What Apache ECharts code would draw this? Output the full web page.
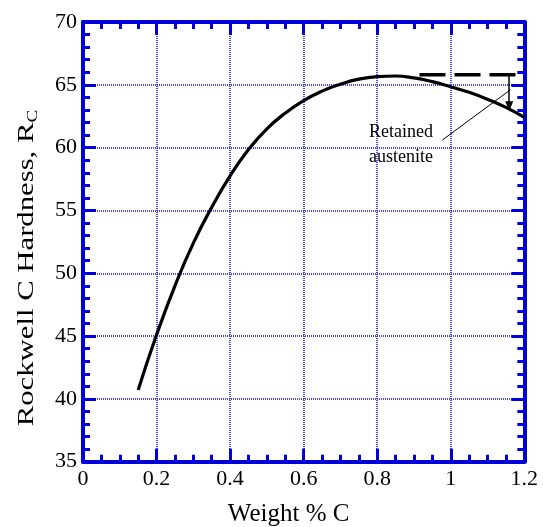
<!DOCTYPE html>
<html>
<head>
<meta charset="utf-8">
<script src="https://cdn.jsdelivr.net/npm/echarts@6/dist/echarts.min.js"></script>
<style>
html,body{margin:0;padding:0;background:#ffffff;}
#chart{width:543px;height:527px;}
</style>
</head>
<body>
<div id="chart"></div>
<script>
// Hardness curve (Weight % C vs Rockwell C)
const carbon = [0.15,0.2,0.25,0.3,0.35,0.4,0.45,0.5,0.55,0.6,0.65,0.7,0.75,0.8,0.85,0.9,0.95,1.0,1.05,1.1,1.15,1.2];
const hardness = [40.7,45.1,49.0,52.4,55.25,57.75,59.85,61.5,62.75,63.75,64.5,65.05,65.45,65.65,65.7,65.55,65.25,64.85,64.4,63.85,63.2,62.4];
// Dashed "no retained austenite" reference line
const dashX = [0.915, 1.2];
const dashY = [65.8, 65.8];
// Arrow showing drop due to retained austenite
const arrowX = [1.159, 1.159];
const arrowY = [65.8, 63.3];
// Leader line from label
const leaderX = [0.977, 1.162];
const leaderY = [60.6, 64.6];
// Annotation text anchor
const noteX = [0.865];
const noteY = [60.2];
const noteText = ['Retained', 'austenite'];
// Axis ranges / ticks
const xRange = [0, 1.2, 0.2];
const yRange = [35, 70, 5];

const FONT = '"Liberation Serif", "Times New Roman", serif';
const BLUE = '#0000dd';
const GRIDC = '#4848ff';

function pairs(xs, ys){ return xs.map((x,i)=>[x, ys[i]]); }

const axisCommon = {
  axisLine:{show:true, onZero:false, lineStyle:{color:BLUE, width:4}},
  axisTick:{show:true, inside:true, length:13, lineStyle:{color:BLUE, width:3}},
  minorTick:{show:true, length:7, lineStyle:{color:BLUE, width:3}}
};

const chart = echarts.init(document.getElementById('chart'), null, {renderer:'canvas'});
chart.setOption({
  animation:false,
  backgroundColor:'#ffffff',
  grid:{left:83, right:18.7, top:22, bottom:65.3, containLabel:false, outerBoundsMode:'none'},
  xAxis:[
    Object.assign({}, JSON.parse(JSON.stringify(axisCommon)), {
      type:'value', position:'bottom', min:xRange[0], max:xRange[1], interval:xRange[2],
      minorTick:Object.assign({}, axisCommon.minorTick, {splitNumber:4}),
      axisLabel:{show:true, color:'#000', fontFamily:FONT, fontSize:22, margin:7,
        formatter:v=>String(+v.toFixed(1))},
      splitLine:{show:true, lineStyle:{color:GRIDC, width:2, type:[1,1]}},
      name:'Weight % C', nameLocation:'middle', nameGap:40,
      nameTextStyle:{color:'#000', fontFamily:FONT, fontSize:25, padding:[0,30,0,0]}
    }),
    Object.assign({}, JSON.parse(JSON.stringify(axisCommon)), {
      type:'value', position:'top', min:xRange[0], max:xRange[1], interval:xRange[2],
      minorTick:Object.assign({}, axisCommon.minorTick, {splitNumber:4}),
      axisLabel:{show:false}, splitLine:{show:false}
    })
  ],
  yAxis:[
    Object.assign({}, JSON.parse(JSON.stringify(axisCommon)), {
      type:'value', position:'left', min:yRange[0], max:yRange[1], interval:yRange[2],
      minorTick:Object.assign({}, axisCommon.minorTick, {splitNumber:5}),
      axisLabel:{show:true, color:'#000', fontFamily:FONT, fontSize:22, margin:6, padding:[0,0,10,0]},
      splitLine:{show:true, lineStyle:{color:GRIDC, width:2, type:[1,1]}}
    }),
    Object.assign({}, JSON.parse(JSON.stringify(axisCommon)), {
      type:'value', position:'right', min:yRange[0], max:yRange[1], interval:yRange[2],
      minorTick:Object.assign({}, axisCommon.minorTick, {splitNumber:5}),
      axisLabel:{show:false}, splitLine:{show:false}
    })
  ],
  graphic:[{
    type:'text', x:27, y:268, rotation:Math.PI/2, scaleX:1.28,
    style:{
      text:'{a|Rockwell C Hardness, R}{s|C}',
      align:'center', verticalAlign:'middle',
      rich:{
        a:{fontFamily:FONT, fontSize:24, fill:'#000'},
        s:{fontFamily:FONT, fontSize:15, fill:'#000', padding:[12,0,0,0]}
      }
    }
  }],
  series:[
    {
      type:'line', name:'hardness', data:pairs(carbon, hardness),
      xAxisIndex:0, yAxisIndex:0, smooth:0.5, showSymbol:false, symbol:'none',
      lineStyle:{color:'#000', width:3.2}, z:5
    },
    {
      type:'line', name:'ideal', data:pairs(dashX, dashY),
      xAxisIndex:0, yAxisIndex:0, showSymbol:false, symbol:'none',
      lineStyle:{color:'#000', width:3.3, type:[26,9]}, z:5,
      markLine:{
        silent:true, symbol:['none','triangle'], symbolSize:[8,10], symbolRotate:180,
        label:{show:false},
        lineStyle:{color:'#000', width:1.5, type:'solid'},
        data:[[{coord:[arrowX[0], arrowY[0]]},{coord:[arrowX[1], arrowY[1]]}]]
      }
    },
    {
      type:'line', name:'leader', data:pairs(leaderX, leaderY),
      xAxisIndex:0, yAxisIndex:0, showSymbol:false, symbol:'none',
      lineStyle:{color:'#000', width:1}, z:5,
      markPoint:{
        silent:true, symbol:'circle', symbolSize:0,
        label:{show:true, position:'inside', formatter:noteText.join('\n'),
          fontFamily:FONT, fontSize:18, lineHeight:25, color:'#000', align:'center'},
        data:[{coord:[noteX[0], noteY[0]]}]
      }
    }
  ]
});
</script>
</body>
</html>
